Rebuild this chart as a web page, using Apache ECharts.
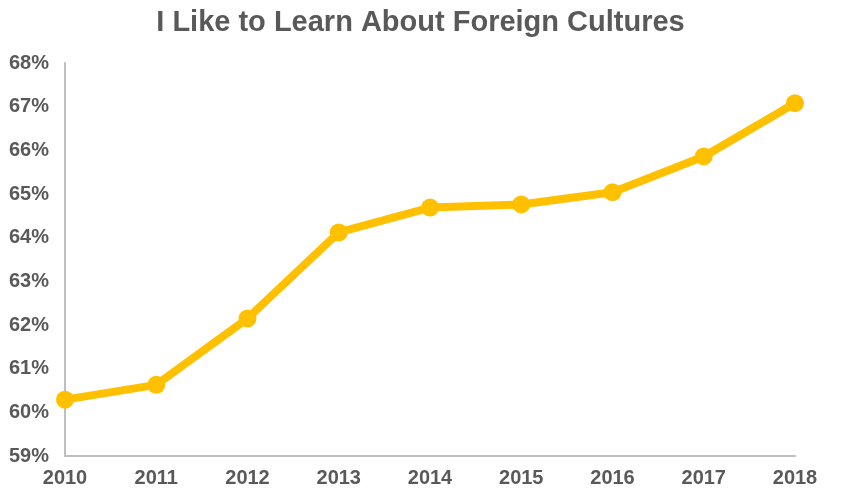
<!DOCTYPE html>
<html><head><meta charset="utf-8">
<script src="https://cdn.jsdelivr.net/npm/echarts@6/dist/echarts.min.js"></script>
<style>html,body{margin:0;padding:0;background:#fff}#c{width:841px;height:502px}</style>
</head><body><div id="c"></div>
<script>
const years = ['2010','2011','2012','2013','2014','2015','2016','2017','2018'];
const values = [60.29, 60.63, 62.15, 64.12, 64.69, 64.76, 65.04, 65.86, 67.08];
const title = 'I Like to Learn About Foreign Cultures';
const chart = echarts.init(document.getElementById('c'));
chart.setOption({
  animation: false,
  title: {text: title, left: 'center', top: 3,
    textStyle: {fontFamily: 'Liberation Sans', fontWeight: 'bold', fontSize: 29, color: '#595959'}},
  grid: {left: 65, right: 46, top: 63, bottom: 46},
  xAxis: {type: 'category', data: years, boundaryGap: false,
    axisLine: {lineStyle: {color: '#bfbfbf', width: 2}}, axisTick: {show: false},
    axisLabel: {fontFamily: 'Liberation Sans', fontWeight: 'bold', fontSize: 20, color: '#595959', margin: 12}},
  yAxis: {type: 'value', min: 59, max: 68, interval: 1,
    axisLine: {show: true, lineStyle: {color: '#bfbfbf', width: 2}}, axisTick: {show: false},
    splitLine: {show: false},
    axisLabel: {formatter: v => v + '%', fontFamily: 'Liberation Sans', fontWeight: 'bold', fontSize: 20, color: '#595959', margin: 16}},
  series: [{type: 'line', data: values, symbol: 'circle', symbolSize: 18,
    lineStyle: {color: '#FFC000', width: 8}, itemStyle: {color: '#FFC000'}}]
});
</script></body></html>
